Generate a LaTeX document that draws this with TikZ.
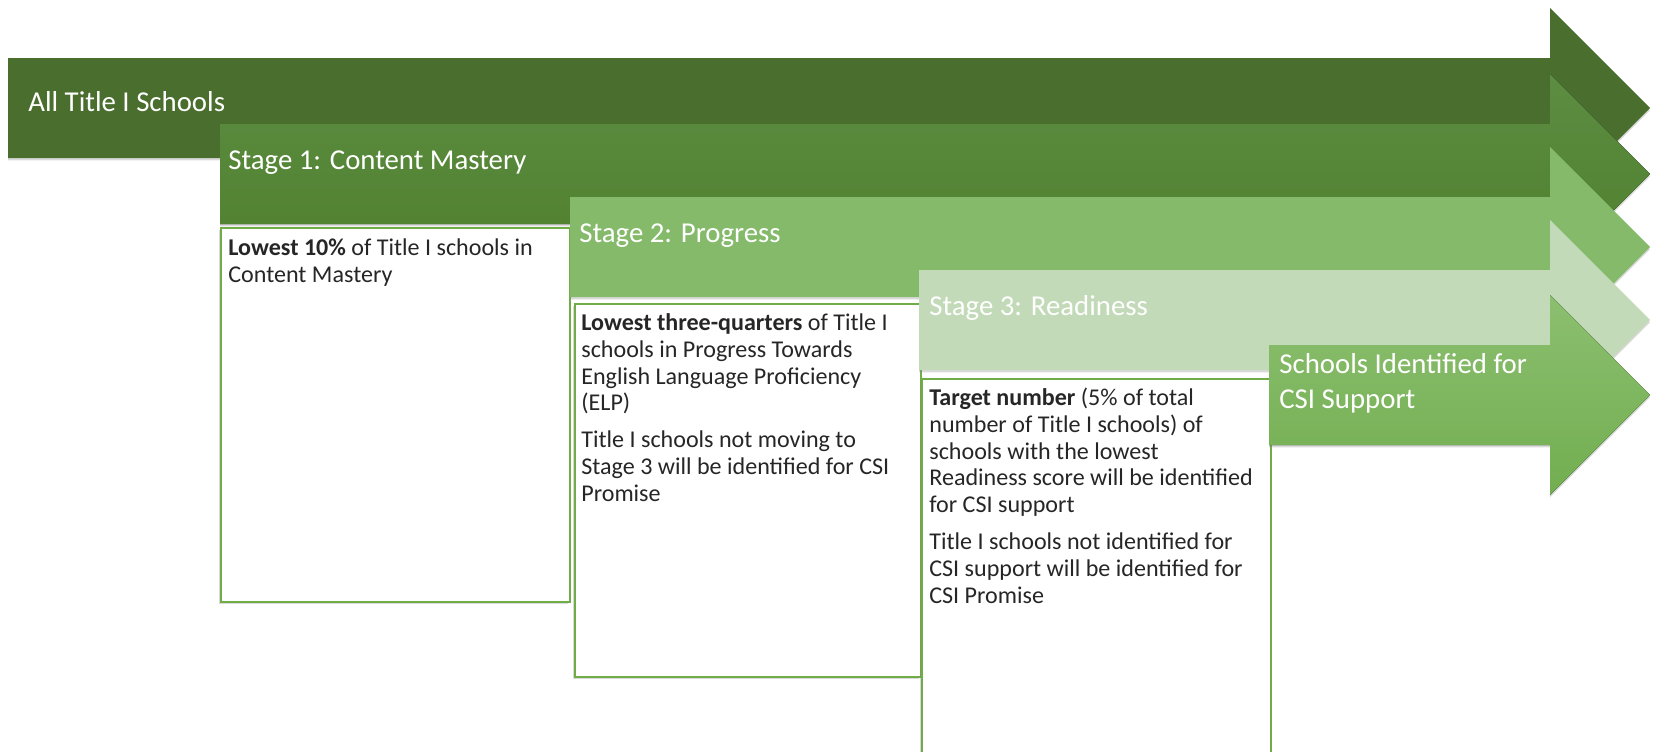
\documentclass[tikz,border=0pt]{standalone}
\usepackage{fontspec}
\setmainfont{Carlito}
\usetikzlibrary{shadows}

\definecolor{stageA}{HTML}{4A6E2E}
\definecolor{stageBtop}{HTML}{5C8D42}
\definecolor{stageB}{HTML}{4F7F2C}
\definecolor{stageC}{HTML}{84BA6A}
\definecolor{stageD}{HTML}{C2DAB7}
\definecolor{stageEtop}{HTML}{8CBF70}
\definecolor{stageE}{HTML}{72AE50}
\definecolor{boxline}{HTML}{70AD47}
\definecolor{bodytext}{HTML}{262626}

% arrow with left end #2 and centre line #3 (picture units are pixels)
\newcommand{\stagearrow}[3]{%
  \fill[#1] (#2,#3-50) -- (1550,#3-50) -- (1550,#3-100) -- (1650,#3)
    -- (1550,#3+100) -- (1550,#3+50) -- (#2,#3+50) -- cycle;}

\tikzset{
  arrowshadow/.style={drop shadow={opacity=0.3, shadow xshift=0pt, shadow yshift=-1.4pt}},
  boxshadow/.style={drop shadow={opacity=0.3, shadow xshift=-1.2pt, shadow yshift=-1.2pt}},
  stagebox/.style={draw=boxline, line width=1pt, fill=white, boxshadow},
  stagelabel/.style={anchor=base west, inner sep=0pt, text=white, align=left,
    font=\fontsize{16.4}{19.8}\selectfont},
  stagetext/.style={anchor=north west, inner sep=0pt, text=bodytext, align=left,
    font=\fontsize{13.7}{15.3}\selectfont},
}

\begin{document}
\begin{tikzpicture}[x=0.02cm, y=-0.02cm]
  \useasboundingbox (0,0) rectangle (1656,751);

  % all schools
  \stagearrow{stageA, arrowshadow}{8}{108}
  \node[stagelabel] (all) at (28,111) {All Title I Schools};

  % stage 1
  \stagearrow{top color=stageBtop, bottom color=stageB, arrowshadow}{220}{174}
  \node[stagelabel] (stage1) at (228,169) {Stage 1: Content Mastery};
  \draw[stagebox] (221,228) rectangle (570,602);
  \node[stagetext] (text1) at (228,233.8)
    {\rule{0pt}{12pt}\textbf{Lowest 10\%} of Title I schools in\\ Content Mastery};

  % stage 2
  \stagearrow{stageC, arrowshadow}{570}{247}
  \node[stagelabel] (stage2) at (579,242) {Stage 2: Progress};
  \draw[stagebox] (575,304) rectangle (921,677);
  \node[stagetext] (text2) at (581,308.8)
    {\rule{0pt}{12pt}\textbf{Lowest three-quarters} of Title I\\ schools in Progress Towards\\
     English Language Proficiency\\ (ELP)\\[5.7pt]
     Title I schools not moving to\\ Stage 3 will be identified for CSI\\ Promise};

  % stage 3
  \stagearrow{stageD, arrowshadow}{919}{320}
  \node[stagelabel] (stage3) at (929,315) {Stage 3: Readiness};
  \draw[stagebox] (922,379) rectangle (1271,780);
  \node[stagetext] (text3) at (929,383.8)
    {\rule{0pt}{12pt}\textbf{Target number} (5\% of total\\ number of Title I schools) of\\
     schools with the lowest\\ Readiness score will be identified\\ for CSI support\\[5.7pt]
     Title I schools not identified for\\ CSI support will be identified for\\ CSI Promise};

  % identified schools
  \stagearrow{top color=stageEtop, bottom color=stageE, arrowshadow}{1269}{395}
  \node[stagelabel, anchor=north west] (csi) at (1279,348.3)
    {\rule{0pt}{14pt}Schools Identified for\\ CSI Support};
\end{tikzpicture}
\end{document}
